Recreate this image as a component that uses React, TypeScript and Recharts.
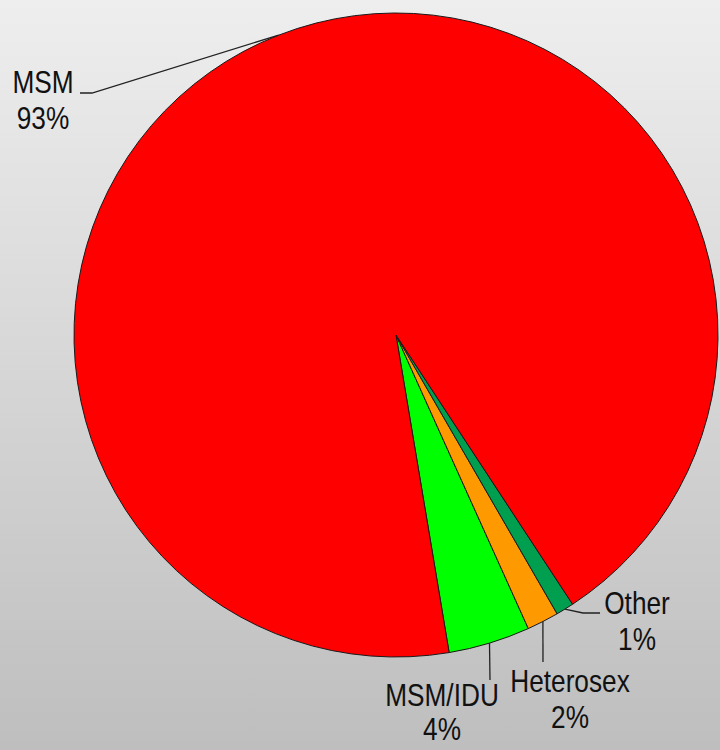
import { Pie, PieChart, Cell } from "recharts";

const categories = ["MSM/IDU", "Heterosex", "Other", "MSM"];
const shares = [4.1, 1.6, 0.9, 93.4];
const colors = ["#00FF00", "#FF9900", "#009E4F", "#FF0000"];

const data = categories.map((name, i) => ({ name, value: shares[i] }));

const RAD = Math.PI / 180;
const FONT = "'Liberation Sans', Arial, sans-serif";

// where each leader line bends / ends and where its text sits
const labelLayout: Record<string, { path: [number, number][]; tx: number; ty: number; gap: number }> = {
	MSM: { path: [[92, 93], [80, 93]], tx: 43, ty: 93, gap: 36 },
	Other: { path: [[583, 613], [600, 613]], tx: 637, ty: 614, gap: 36 },
	Heterosex: { path: [[543, 662]], tx: 570, ty: 692, gap: 36 },
	"MSM/IDU": { path: [[490, 680]], tx: 442, ty: 706, gap: 34 },
};

function renderLabel(props: any) {
	const { cx, cy, midAngle, outerRadius, name, percent } = props;
	const layout = labelLayout[name];
	if (!layout) return null;
	const sx = cx + outerRadius * Math.cos(-midAngle * RAD);
	const sy = cy + outerRadius * Math.sin(-midAngle * RAD);
	const pts = [[sx, sy], ...layout.path];
	const d = pts.map((p, i) => `${i === 0 ? "M" : "L"}${p[0]},${p[1]}`).join(" ");
	return (
		<g>
			<path d={d} stroke="#222" strokeWidth={1.3} fill="none" />
			<text
				transform={`translate(${layout.tx},${layout.ty}) scale(0.82,1)`}
				x={0}
				y={0}
				textAnchor="middle"
				fill="#111"
				fontSize={32}
				fontFamily={FONT}
			>
				<tspan x={0}>{name}</tspan>
				<tspan x={0} dy={layout.gap}>{`${Math.round(percent * 100)}%`}</tspan>
			</text>
		</g>
	);
}

export default function App() {
	return (
		<div
			style={{
				position: "absolute",
				left: 0,
				top: 0,
				width: 720,
				height: 750,
				overflow: "hidden",
				background: "linear-gradient(to bottom, #EEEEEE, #BEBEBE)",
			}}
		>
			<PieChart width={720} height={750} margin={{ top: 0, right: 0, bottom: 0, left: 0 }}>
				<Pie
					data={data}
					dataKey="value"
					nameKey="name"
					cx={396}
					cy={335}
					outerRadius={322}
					startAngle={-80.5}
					endAngle={279.5}
					stroke="#1a1a1a"
					strokeWidth={1}
					label={renderLabel}
					labelLine={false}
					isAnimationActive={false}
				>
					{data.map((d, i) => (
						<Cell key={d.name} fill={colors[i]} />
					))}
				</Pie>
			</PieChart>
		</div>
	);
}
